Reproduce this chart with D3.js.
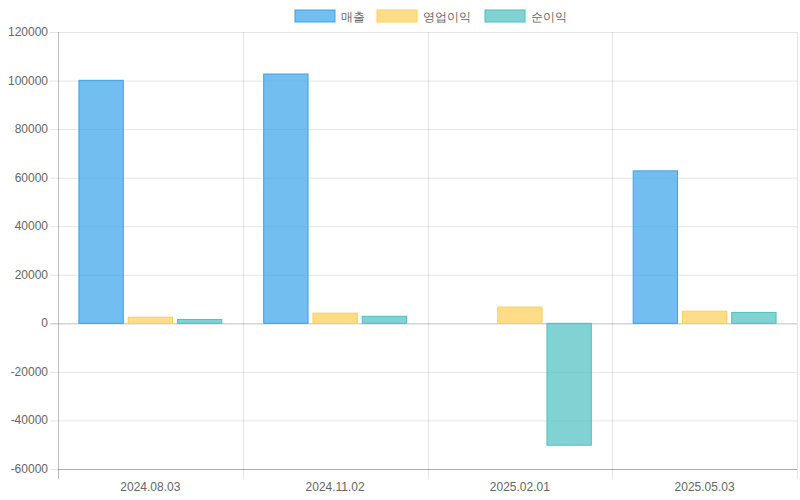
<!DOCTYPE html>
<html><head><meta charset="utf-8">
<script src="https://cdn.jsdelivr.net/npm/d3@7"></script>
<style>body{margin:0;background:#fff}text{font-family:"Liberation Sans",Arial,sans-serif}</style>
</head><body><svg id="c" width="800" height="500"></svg>
<script>
const categories=["2024.08.03","2024.11.02","2025.02.01","2025.05.03"];
const seriesNames=["매출","영업이익","순이익"];
const sales=[100100,102700,0,62800];
const opProfit=[2500,4200,6700,5000];
const netProfit=[1600,2900,-50200,4500];
const yTicks=[-60000,-40000,-20000,0,20000,40000,60000,80000,100000,120000];
const fills=["rgba(54,162,235,0.7)","rgba(255,206,86,0.7)","rgba(75,192,192,0.7)"];
const strokes=["rgb(54,162,235)","rgb(255,206,86)","rgb(75,192,192)"];
const series=[sales,opProfit,netProfit];

const svg=d3.select("#c");
const L=58,R=797,T=32,B=469;
const x=d3.scaleBand().domain(categories).range([L,R]).paddingInner(0).paddingOuter(0);
const y=d3.scaleLinear().domain([-60000,120000]).range([B,T]);
const g=svg.append("g");
// horizontal grid
g.selectAll(".hg").data(yTicks).enter().append("line")
 .attr("x1",L-8).attr("x2",R).attr("y1",d=>y(d)+0.5).attr("y2",d=>y(d)+0.5)
 .attr("stroke",d=>d===0?"rgba(0,0,0,0.25)":"rgba(0,0,0,0.1)");
// vertical grid
const vx=categories.map(c=>x(c)).concat([R]);
g.selectAll(".vg").data(vx).enter().append("line")
 .attr("x1",d=>Math.round(d)+0.5).attr("x2",d=>Math.round(d)+0.5).attr("y1",T).attr("y2",B+10)
 .attr("stroke",(d,i)=>i===0?"rgba(0,0,0,0.25)":"rgba(0,0,0,0.1)");
g.append("line").attr("x1",L).attr("x2",R).attr("y1",B+0.5).attr("y2",B+0.5).attr("stroke","rgba(0,0,0,0.25)");
// y labels
g.selectAll(".yl").data(yTicks).enter().append("text")
 .attr("x",L-10).attr("y",d=>y(d)+4).attr("text-anchor","end").attr("font-size",12).attr("fill","#666").text(d=>d);
// x labels
g.selectAll(".xl").data(categories).enter().append("text")
 .attr("x",d=>x(d)+x.bandwidth()/2).attr("y",B+22).attr("text-anchor","middle").attr("font-size",12).attr("fill","#666").text(d=>d);
// bars
const inner=d3.scaleBand().domain([0,1,2]).range([0,x.bandwidth()*0.8]);
const bw=inner.bandwidth()*0.9;
series.forEach((s,si)=>{
 g.selectAll(".b"+si).data(s).enter().append("rect")
  .attr("x",(d,i)=>x(categories[i])+x.bandwidth()*0.1+inner(si)+(inner.bandwidth()-bw)/2)
  .attr("width",bw)
  .attr("y",d=>Math.min(y(d),y(0)))
  .attr("height",d=>Math.abs(y(d)-y(0)))
  .attr("fill",fills[si]).attr("stroke",d=>d===0?"none":strokes[si]).attr("stroke-width",1);
});
// legend
const lw=[40+6+seriesNames[0].length*13,0,0];
const items=seriesNames.map((n,i)=>({n,i,w:40+6+n.length*13+10}));
const total=d3.sum(items,d=>d.w)-10;
let cx=(L+R)/2-total/2+5;
items.forEach(it=>{
 const lg=svg.append("g").attr("transform",`translate(${cx},10)`);
 lg.append("rect").attr("x",0).attr("y",0).attr("width",40).attr("height",12).attr("fill",fills[it.i]).attr("stroke",strokes[it.i]);
 lg.append("text").attr("x",46).attr("y",11).attr("font-size",12).attr("fill","#666").text(it.n);
 cx+=it.w;
});
</script></body></html>
